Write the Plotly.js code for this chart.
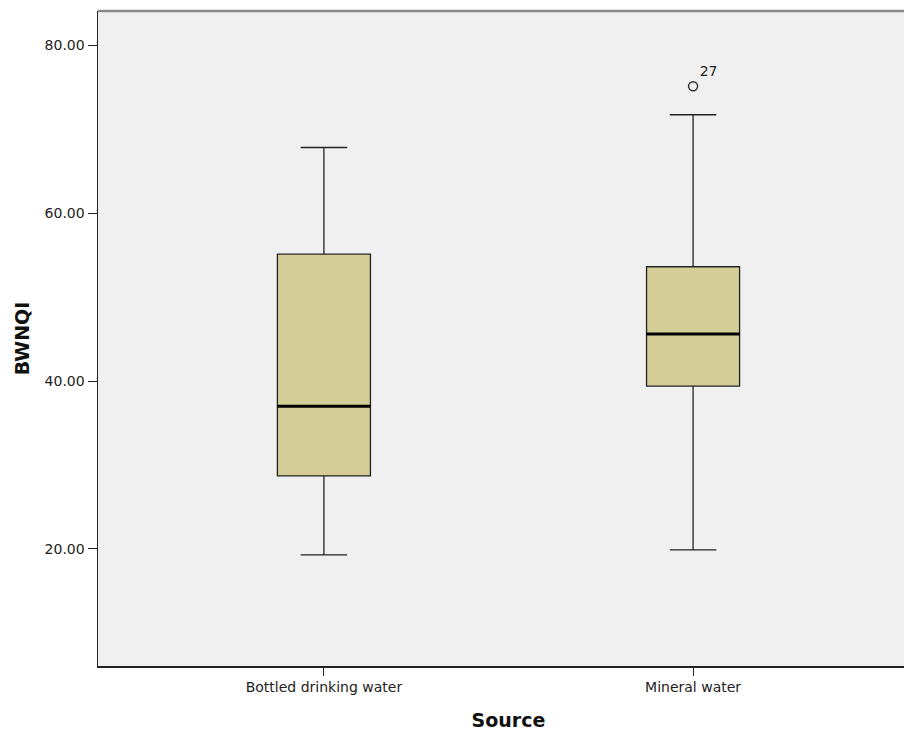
<!DOCTYPE html>
<html>
<head>
<meta charset="utf-8">
<script src="https://cdn.plot.ly/plotly-3.0.1.min.js"></script>
<style>
html,body{margin:0;padding:0;background:#fff;overflow:hidden;width:904px;height:731px;}
#chart{width:919px;height:731px;}
</style>
</head>
<body>
<div id="chart"></div>
<script>
const categories = ["Bottled drinking water", "Mineral water"];
const lowerWhisker = [19.3, 19.9];
const q1 = [28.7, 39.4];
const median = [37.0, 45.6];
const q3 = [55.1, 53.6];
const upperWhisker = [67.8, 71.7];
const outlierCategory = [1];
const outlierValue = [75.1];
const outlierLabel = ["27"];
const yTicks = [20, 40, 60, 80];

const xs = categories.map((c, i) => i);
const boxWidth = 0.252;

const medX = [], medY = [];
xs.forEach((x, i) => {
  medX.push(x - boxWidth / 2, x + boxWidth / 2, null);
  medY.push(median[i], median[i], null);
});

const font = "DejaVu Sans, Liberation Sans, Arial, sans-serif";

const traces = [
  {
    type: "box",
    x: xs,
    q1: q1,
    median: median,
    q3: q3,
    lowerfence: lowerWhisker,
    upperfence: upperWhisker,
    width: boxWidth,
    whiskerwidth: 0.5,
    fillcolor: "#D3CE98",
    line: {color: "#222", width: 1.3},
    boxpoints: false,
    hoverinfo: "skip",
    showlegend: false
  },
  {
    type: "scatter",
    mode: "lines",
    x: medX,
    y: medY,
    line: {color: "#000", width: 3},
    hoverinfo: "skip",
    showlegend: false
  },
  {
    type: "scatter",
    mode: "markers+text",
    x: outlierCategory,
    y: outlierValue,
    text: outlierLabel,
    textposition: "top right",
    textfont: {family: font, size: 14, color: "#222"},
    marker: {symbol: "circle-open", size: 9, color: "#333", line: {width: 1.5, color: "#333"}},
    hoverinfo: "skip",
    showlegend: false
  }
];

const layout = {
  width: 919,
  height: 731,
  margin: {l: 98, r: 0, t: 11, b: 65},
  paper_bgcolor: "#ffffff",
  plot_bgcolor: "#F0F0F0",
  font: {family: font, size: 14, color: "#222"},
  xaxis: {
    range: [-0.612, 1.612],
    tickvals: xs,
    ticktext: categories,
    showgrid: false,
    zeroline: false,
    showline: true,
    linecolor: "#222",
    linewidth: 1.5,
    ticks: "outside",
    ticklen: 8,
    tickcolor: "#222",
    tickfont: {family: font, size: 14, color: "#222"},
    automargin: false,
    title: {text: "<b>Source</b>", font: {family: font, size: 19, color: "#111"}, standoff: 20}
  },
  yaxis: {
    range: [6.07, 84.05],
    tickvals: yTicks,
    tickformat: ".2f",
    showgrid: false,
    zeroline: false,
    showline: true,
    linecolor: "#222",
    linewidth: 1.5,
    ticks: "outside",
    ticklen: 9,
    tickcolor: "#222",
    tickfont: {family: font, size: 14, color: "#222"},
    automargin: false,
    title: {text: "<b>BWNQI</b>", font: {family: font, size: 19, color: "#111"}, standoff: 10}
  },
  shapes: [
    {type: "line", xref: "paper", yref: "paper", x0: 0, x1: 1, y0: 1, y1: 1, line: {color: "#888", width: 2.5}}
  ]
};

Plotly.newPlot("chart", traces, layout, {displayModeBar: false, staticPlot: true});
</script>
</body>
</html>
